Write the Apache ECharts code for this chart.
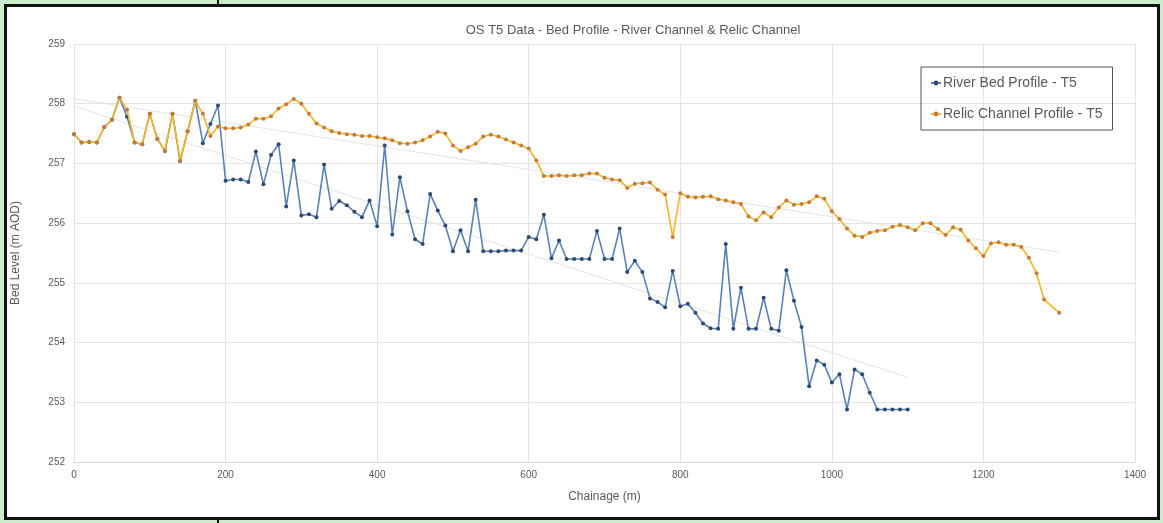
<!DOCTYPE html>
<html>
<head>
<meta charset="utf-8">
<script src="https://cdn.jsdelivr.net/npm/echarts@6/dist/echarts.min.js"></script>
<style>
  html, body { margin: 0; padding: 0; width: 1163px; height: 523px; overflow: hidden; background: #cdeccb; }
  #frame { position: absolute; left: 4px; top: 4px; width: 1150px; height: 510px; border: 3px solid #111; background: #fff; }
  .tick { position: absolute; width: 2px; background: #111; left: 217px; }
  #chart { position: absolute; left: 0; top: 0; width: 1163px; height: 523px; }
</style>
</head>
<body>
<div id="frame"></div>
<div class="tick" style="top:0;height:5px"></div>
<div class="tick" style="top:519px;height:4px"></div>
<div id="chart"></div>
<script>
const chainage = [0,10,20,30,40,50,60,70,80,90,100,110,120,130,140,150,160,170,180,190,
  200,210,220,230,240,250,260,270,280,290,300,310,320,330,340,350,360,370,380,390,
  400,410,420,430,440,450,460,470,480,490,500,510,520,530,540,550,560,570,580,590,
  600,610,620,630,640,650,660,670,680,690,700,710,720,730,740,750,760,770,780,790,
  800,810,820,830,840,850,860,870,880,890,900,910,920,930,940,950,960,970,980,990,
  1000,1010,1020,1030,1040,1050,1060,1070,1080,1090,1100,1110,1120,1130,1140,1150,1160,1170,1180,1190,
  1200,1210,1220,1230,1240,1250,1260,1270,1280,1290,1300];

const riverBed = [257.49,257.35,257.36,257.35,257.61,257.73,258.10,257.78,257.35,257.32,
  257.83,257.41,257.21,257.83,257.04,257.54,258.05,257.34,257.66,257.97,
  256.71,256.73,256.73,256.69,257.20,256.65,257.14,257.32,256.28,257.05,
  256.13,256.15,256.10,256.98,256.24,256.37,256.30,256.19,256.10,256.38,
  255.95,257.30,255.81,256.77,256.20,255.73,255.65,256.49,256.21,255.96,
  255.53,255.88,255.53,256.39,255.53,255.53,255.53,255.54,255.54,255.54,
  255.77,255.73,256.14,255.41,255.71,255.40,255.40,255.40,255.40,255.87,
  255.40,255.40,255.91,255.18,255.37,255.18,254.74,254.68,254.59,255.20,
  254.61,254.65,254.50,254.32,254.24,254.23,255.65,254.23,254.92,254.23,
  254.23,254.75,254.23,254.20,255.21,254.70,254.26,253.27,253.70,253.63,
  253.33,253.47,252.88,253.55,253.47,253.16,252.88,252.88,252.88,252.88,252.88];

const relicChannel = [257.49,257.35,257.36,257.35,257.61,257.73,258.10,257.90,257.35,257.32,
  257.83,257.41,257.21,257.83,257.04,257.54,258.05,257.83,257.46,257.62,
  257.59,257.59,257.60,257.65,257.75,257.75,257.79,257.92,257.99,258.08,
  258.00,257.83,257.67,257.60,257.54,257.51,257.49,257.48,257.46,257.46,
  257.44,257.42,257.39,257.34,257.33,257.35,257.39,257.45,257.53,257.50,
  257.30,257.21,257.27,257.33,257.45,257.48,257.45,257.40,257.35,257.30,
  257.25,257.05,256.79,256.79,256.80,256.79,256.80,256.80,256.83,256.83,
  256.76,256.73,256.72,256.59,256.66,256.67,256.68,256.56,256.48,255.77,
  256.50,256.44,256.43,256.44,256.45,256.40,256.38,256.35,256.32,256.11,
  256.05,256.18,256.10,256.26,256.38,256.31,256.32,256.35,256.45,256.41,
  256.20,256.07,255.91,255.79,255.77,255.84,255.87,255.88,255.94,255.97,
  255.93,255.88,256.00,256.00,255.90,255.80,255.93,255.89,255.71,255.58,
  255.45,255.66,255.68,255.64,255.64,255.60,255.42,255.16,254.72,null,254.50];

const seriesNames = ['River Bed Profile - T5', 'Relic Channel Profile - T5'];
const xTicks = { min: 0, max: 1400, interval: 200 };
const yTicks = { min: 252, max: 259, interval: 1 };

function pairs(values) {
  return values.map((v, i) => [chainage[i], v]);
}
function trend(values) {
  const pts = pairs(values).filter(p => p[1] != null);
  const n = pts.length;
  let sx = 0, sy = 0, sxx = 0, sxy = 0;
  pts.forEach(p => { sx += p[0]; sy += p[1]; sxx += p[0] * p[0]; sxy += p[0] * p[1]; });
  const b = (n * sxy - sx * sy) / (n * sxx - sx * sx);
  const a = (sy - b * sx) / n;
  const x0 = pts[0][0], x1 = pts[n - 1][0];
  return [[x0, a + b * x0], [x1, a + b * x1]];
}

const chart = echarts.init(document.getElementById('chart'), null, { renderer: 'canvas' });
const txt = '#595959';
const ff = 'Liberation Sans, Arial, sans-serif';
chart.setOption({
  backgroundColor: 'transparent',
  animation: false,
  grid: { left: 74, right: 28, top: 44, bottom: 61 },
  graphic: [{
    type: 'text', x: 633, y: 30,
    style: { text: 'OS T5 Data - Bed Profile - River Channel & Relic Channel', textAlign: 'center', textVerticalAlign: 'middle',
      fontSize: 13, fill: txt, fontFamily: ff }
  }],
  legend: {
    data: seriesNames,
    orient: 'vertical', left: 921, top: 67,
    padding: [9, 10, 9, 9], itemGap: 17, itemWidth: 10, itemHeight: 6,
    borderColor: '#555', borderWidth: 1,
    textStyle: { fontSize: 14, color: txt, fontFamily: ff, padding: [0, 0, 0, -3] }
  },
  xAxis: {
    type: 'value', min: xTicks.min, max: xTicks.max, interval: xTicks.interval,
    name: 'Chainage (m)', nameLocation: 'middle', nameGap: 29,
    nameTextStyle: { fontSize: 12, color: txt, fontFamily: ff },
    axisLine: { show: true, lineStyle: { color: '#d9d9d9' } },
    axisTick: { show: false },
    axisLabel: { fontSize: 10, color: txt, margin: 8, fontFamily: ff, formatter: v => String(v) },
    splitLine: { show: true, lineStyle: { color: '#e3e3e3' } }
  },
  yAxis: {
    type: 'value', min: yTicks.min, max: yTicks.max, interval: yTicks.interval,
    name: 'Bed Level (m AOD)', nameLocation: 'middle', nameGap: 52,
    nameTextStyle: { fontSize: 12, color: txt, fontFamily: ff },
    axisLine: { show: false }, axisTick: { show: false },
    axisLabel: { fontSize: 10, color: txt, margin: 9, fontFamily: ff, formatter: v => String(v) },
    splitLine: { show: true, lineStyle: { color: '#e3e3e3' } }
  },
  series: [
    { name: 'trend-river', type: 'line', data: trend(riverBed), symbol: 'none', silent: true,
      lineStyle: { color: '#e4e4e4', width: 1 }, z: 1 },
    { name: 'trend-relic', type: 'line', data: trend(relicChannel), symbol: 'none', silent: true,
      lineStyle: { color: '#e4e4e4', width: 1 }, z: 1 },
    { name: seriesNames[0], type: 'line', data: pairs(riverBed), symbol: 'circle', symbolSize: 4,
      lineStyle: { color: '#5a80b8', width: 1.6 }, itemStyle: { color: '#2e4a70' }, z: 2 },
    { name: seriesNames[1], type: 'line', data: pairs(relicChannel), connectNulls: true, symbol: 'circle', symbolSize: 4,
      lineStyle: { color: '#f2b51d', width: 1.6 }, itemStyle: { color: '#c47a3c' }, z: 3 }
  ]
});
</script>
</body>
</html>
